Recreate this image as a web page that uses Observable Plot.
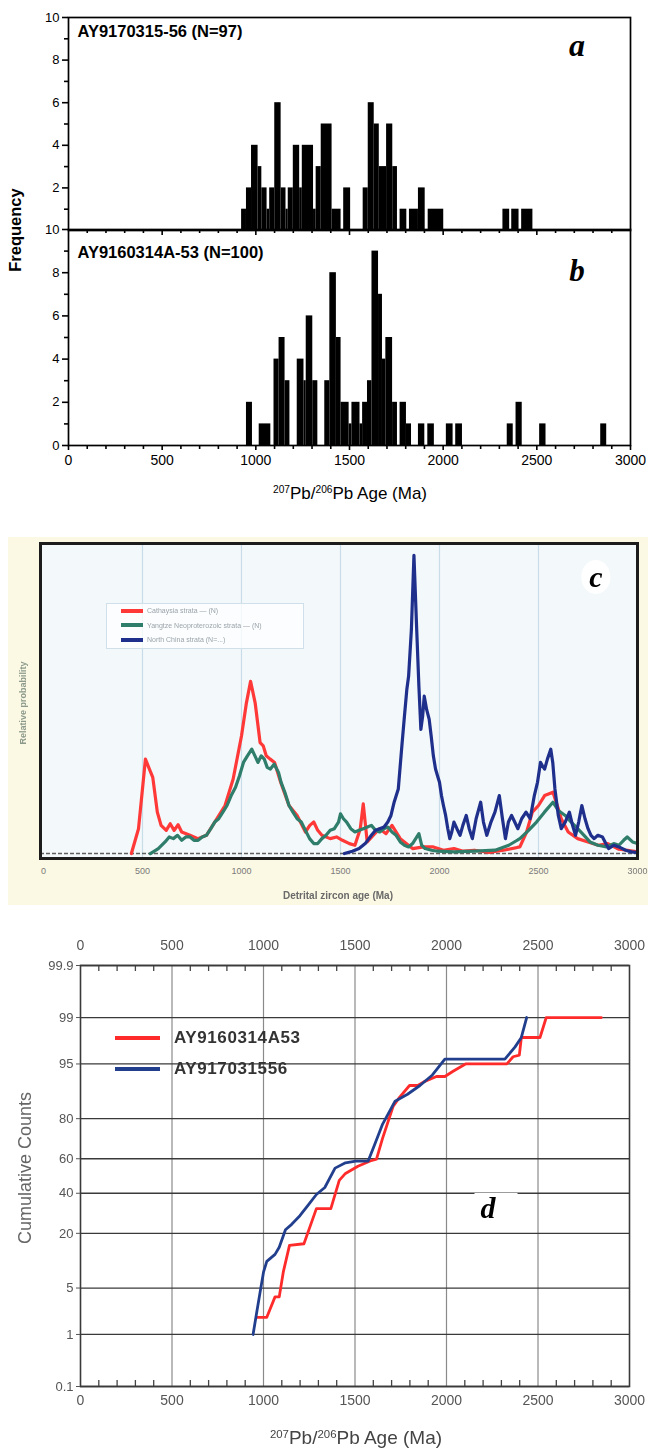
<!DOCTYPE html>
<html><head><meta charset="utf-8">
<script src="https://cdn.jsdelivr.net/npm/d3@7"></script>
<script src="https://cdn.jsdelivr.net/npm/@observablehq/plot@0.6"></script>
<style>
html,body{margin:0;padding:0;background:#fff;}
#root{position:relative;width:648px;height:1451px;overflow:hidden;font-family:"Liberation Sans",Arial,Helvetica,sans-serif;background:#fff;}
#root svg{position:absolute;overflow:visible;}
.lab{position:absolute;white-space:nowrap;line-height:1;}
.ctr{transform:translate(-50%,-50%);}
.rot{transform:translate(-50%,-50%) rotate(-90deg);}
.letter{font-family:"Liberation Serif","Times New Roman",serif;font-weight:bold;font-style:italic;}
sup{font-size:60%;vertical-align:0;position:relative;top:-0.55em;}
</style></head><body>
<div id="root"></div>
<script>
// ---------- shared ticks ----------
const ageTicks = [0, 500, 1000, 1500, 2000, 2500, 3000];
const ageMinorTicks = [100,200,300,400,600,700,800,900,1100,1200,1300,1400,1600,1700,1800,1900,2100,2200,2300,2400,2600,2700,2800,2900];
const freqLabelsA = [2, 4, 6, 8, 10];
const freqLabelsB = [0, 2, 4, 6, 8, 10];
const freqMinor = [1, 3, 5, 7, 9];

// ---------- panel a : AY9170315-56 (N=97) ----------
const aStart = [924,950,977,1012,1032,1060,1074,1101,1135,1161,1173,1200,1234,1248,1308,1322,1349,1407,1469,1573,1600,1632,1659,1698,1731,1770,1820,1868,1920,2319,2366,2419];
const aEnd   = [950,977,1012,1032,1060,1074,1101,1135,1161,1173,1200,1234,1248,1308,1322,1349,1407,1455,1506,1600,1632,1659,1698,1731,1756,1806,1868,1904,2003,2355,2405,2479];
const aCount = [1,2,4,3,2,1,2,6,2,1,2,4,2,4,1,3,5,1,2,2,6,5,3,5,3,1,1,2,1,1,1,1];

// ---------- panel b : AY9160314A-53 (N=100) ----------
const bStart = [950,1018,1097,1124,1156,1221,1257,1269,1304,1368,1395,1430,1455,1498,1513,1556,1570,1596,1620,1655,1676,1694,1730,1770,1804,1868,1918,2017,2067,2342,2389,2515,2841];
const bEnd   = [982,1080,1124,1156,1182,1257,1269,1304,1331,1395,1430,1455,1498,1513,1556,1570,1596,1620,1655,1676,1694,1730,1756,1804,1831,1902,1953,2053,2103,2374,2422,2549,2873];
const bCount = [2,1,4,5,3,4,3,6,3,3,8,5,2,1,2,1,2,3,9,7,4,5,2,2,1,1,1,1,1,1,2,1,1];

// ---------- panel c : relative probability curves ----------
const cTicks = [0, 500, 1000, 1500, 2000, 2500, 3000];
const cGrid = [500, 1000, 1500, 2000, 2500];
const redAge = [444,480,515,535,552,575,594,620,640,660,680,698,740,780,823,865,917,958,1000,1025,1046,1069,1094,1110,1125,1145,1167,1198,1240,1281,1323,1345,1365,1385,1406,1448,1480,1510,1545,1573,1600,1615,1635,1665,1698,1730,1760,1802,1864,1920,1969,2020,2073,2120,2177,2250,2323,2406,2440,2469,2500,2531,2573,2600,2615,2650,2698,2750,2802,2850,2906,2950,3000];
const redProb = [0,75,285,255,230,125,85,70,90,70,87,65,55,45,55,95,145,225,355,455,520,455,335,325,295,285,275,215,145,115,65,85,95,70,55,45,50,40,30,25,75,150,35,55,75,60,85,45,15,20,20,10,15,7,10,3,10,20,65,125,145,175,185,135,105,65,45,35,25,30,13,10,5];
const greenAge = [540,580,614,635,656,677,698,719,740,760,781,802,823,845,865,885,906,927,948,970,990,1010,1030,1052,1068,1083,1100,1115,1130,1146,1165,1187,1200,1219,1240,1260,1281,1302,1323,1344,1365,1385,1406,1427,1448,1469,1490,1500,1515,1531,1552,1573,1594,1615,1636,1656,1677,1698,1719,1739,1760,1781,1802,1823,1844,1864,1880,1896,1910,1927,1960,1990,2073,2180,2281,2350,2406,2450,2490,2530,2573,2600,2635,2665,2698,2730,2760,2800,2844,2880,2906,2930,2948,2975,3000];
const greenProb = [0,15,35,50,45,55,40,50,50,40,40,50,55,75,95,105,125,145,175,200,235,275,295,315,295,275,295,285,260,255,270,245,215,185,145,125,105,95,70,45,30,30,45,55,70,75,95,120,105,95,75,65,70,75,80,85,70,65,75,80,65,55,35,25,20,30,45,60,25,15,10,7,5,7,10,25,45,70,95,125,155,130,115,95,75,55,35,25,20,30,25,40,50,35,30];
const blueAge = [1520,1560,1594,1625,1656,1677,1698,1720,1739,1755,1771,1792,1810,1823,1835,1844,1858,1871,1885,1896,1906,1915,1923,1935,1948,1958,1969,1980,1990,2000,2010,2020,2031,2042,2052,2062,2073,2088,2104,2118,2135,2150,2166,2185,2208,2222,2239,2260,2280,2302,2318,2333,2348,2364,2380,2396,2415,2437,2458,2479,2495,2510,2520,2531,2545,2562,2572,2583,2600,2615,2635,2656,2672,2687,2703,2719,2735,2750,2765,2781,2800,2823,2840,2854,2880,2906,2940,2969,3000];
const blueProb = [0,7,15,30,55,70,75,80,95,115,155,195,325,415,495,535,675,900,675,505,375,415,475,435,405,355,295,255,235,215,175,145,115,75,45,65,95,75,55,85,115,75,45,105,155,95,55,95,125,175,105,45,95,115,95,75,105,125,105,175,215,275,265,255,285,315,275,195,115,75,95,125,85,55,95,145,105,75,55,45,55,50,30,15,25,20,10,5,3];
const cLegend = ["Cathaysia strata — (N)", "Yangtze Neoproterozoic strata — (N)", "North China strata (N=...)"];

// ---------- panel d : cumulative probability ----------
const cumTicks = [0.1, 1, 5, 20, 40, 60, 80, 95, 99, 99.9];
const dGrid = [500, 1000, 1500, 2000, 2500];
const redCumAge = [961,1018,1063,1086,1108,1142,1221,1289,1368,1414,1448,1516,1583,1617,1651,1708,1742,1798,1843,1878,1945,1991,2036,2104,2330,2364,2398,2409,2511,2545,2846];
const redCumPct = [1.9,1.9,3.8,3.8,7.9,15.4,16,31.6,31.6,47.4,51.5,55.7,58.7,59.7,71.1,84.6,87.5,90.8,90.8,91.7,92.8,92.8,93.8,95,95,96,96.2,97.9,97.9,99,99];
const blueCumAge = [943,961,984,1000,1018,1063,1086,1120,1154,1199,1244,1289,1335,1391,1448,1504,1572,1606,1651,1719,1787,1855,1923,1991,2319,2375,2409,2438];
const blueCumPct = [1,2.1,4.8,7.9,10.5,12.5,14.8,21.5,23.9,28,33.5,39.3,43.3,54.6,57.7,58.7,58.7,67.4,77.7,86.4,88.5,90.8,93.1,95.7,95.7,97.1,97.9,99];
const dNames = ["AY9160314A53", "AY917031556"];

// ---------- helpers ----------
function probit(p) {
  const a=[-3.969683028665376e+01,2.209460984245205e+02,-2.759285104469687e+02,1.383577518672690e+02,-3.066479806614716e+01,2.506628277459239e+00];
  const b=[-5.447609879822406e+01,1.615858368580409e+02,-1.556989798598866e+02,6.680131188771972e+01,-1.328068155288572e+01];
  const c=[-7.784894002430293e-03,-3.223964580411365e-01,-2.400758277161838e+00,-2.549732539343734e+00,4.374664141464968e+00,2.938163982698783e+00];
  const d=[7.784695709041462e-03,3.224671290700398e-01,2.445134137142996e+00,3.754408661907416e+00];
  const pl=0.02425, ph=1-pl; let q, r;
  if (p < pl) { q=Math.sqrt(-2*Math.log(p)); return (((((c[0]*q+c[1])*q+c[2])*q+c[3])*q+c[4])*q+c[5])/((((d[0]*q+d[1])*q+d[2])*q+d[3])*q+1); }
  if (p <= ph) { q=p-0.5; r=q*q; return (((((a[0]*r+a[1])*r+a[2])*r+a[3])*r+a[4])*r+a[5])*q/(((((b[0]*r+b[1])*r+b[2])*r+b[3])*r+b[4])*r+1); }
  q=Math.sqrt(-2*Math.log(1-p)); return -(((((c[0]*q+c[1])*q+c[2])*q+c[3])*q+c[4])*q+c[5])/((((d[0]*q+d[1])*q+d[2])*q+d[3])*q+1);
}
const probitPct = v => probit(v / 100);
const root = document.getElementById("root");
function place(el, left, top) { el.style.left = left + "px"; el.style.top = top + "px"; root.appendChild(el); return el; }
function label(html, x, y, cls, style) {
  const d = document.createElement("div");
  d.className = "lab " + (cls || "ctr");
  d.innerHTML = html;
  Object.assign(d.style, style || {});
  return place(d, x, y);
}
const plain = d => String(d);
const toBins = (s, e, n) => s.map((v, i) => ({x1: v, x2: e[i], n: n[i]}));
const toPts = (xs, ys) => xs.map((v, i) => ({age: v, v: ys[i]}));

function histPlot(bins, o) {
  const innerH = o.height - o.mt - o.mb;
  const marks = [
    Plot.rectY(bins, {x1: "x1", x2: "x2", y: "n", fill: "#000"}),
    Plot.frame({stroke: "#000", strokeWidth: 1.7}),
    Plot.axisY({ticks: o.labels, tickSize: 6, tickPadding: 3, fontSize: 13, label: null, strokeWidth: 1.6, tickFormat: plain}),
    Plot.axisY({ticks: freqMinor, tickSize: 4, text: null, label: null, strokeWidth: 1.6}),
    Plot.text([o.title], {text: d => d, frameAnchor: "top-left", dx: 9, dy: o.titleDy, fontSize: 16.5, fontWeight: "bold", fill: "#000"})
  ];
  if (o.topTicks) {
    marks.push(Plot.ruleX(ageMinorTicks, {insetBottom: innerH - 4, strokeWidth: 1.6}));
    marks.push(Plot.ruleX(ageTicks.slice(1, -1), {insetBottom: innerH - 6, strokeWidth: 1.6}));
  }
  if (o.bottomAxis) {
    marks.push(Plot.axisX({ticks: ageTicks, tickSize: 5, tickPadding: 5, fontSize: 14, label: null, strokeWidth: 1.6, tickFormat: plain}));
    marks.push(Plot.axisX({ticks: ageMinorTicks, tickSize: 4, text: null, label: null, strokeWidth: 1.6}));
  }
  return Plot.plot({
    width: 648, height: o.height, marginTop: o.mt, marginBottom: o.mb, marginLeft: 68, marginRight: 18,
    style: {background: "transparent", fontFamily: "Liberation Sans, Arial, sans-serif", color: "#000"},
    x: {domain: [0, 3000], axis: o.bottomAxis ? undefined : null},
    y: {domain: [0, 10]},
    marks
  });
}

// ---------- panel a ----------
place(histPlot(toBins(aStart, aEnd, aCount), {height: 231, mt: 17, mb: 1, labels: freqLabelsA, title: "AY9170315-56 (N=97)", titleDy: 8, topTicks: false, bottomAxis: false}), 0, 0);
// ---------- panel b ----------
place(histPlot(toBins(bStart, bEnd, bCount), {height: 293, mt: 17, mb: 60, labels: freqLabelsB, title: "AY9160314A-53 (N=100)", titleDy: 17, topTicks: true, bottomAxis: true}), 0, 212);

label("Frequency", 15, 230, "rot", {fontSize: "16.5px", fontWeight: "bold"});
label("<sup>207</sup>Pb/<sup>206</sup>Pb Age (Ma)", 350, 493, "ctr", {fontSize: "17px"});
label("a", 577, 45, "ctr letter", {fontSize: "32px"});
label("b", 577, 270, "ctr letter", {fontSize: "31px"});

// ---------- panel c ----------
const plotC = Plot.plot({
  width: 640, height: 368, marginTop: 6, marginBottom: 47, marginLeft: 32, marginRight: 11,
  style: {background: "#fbf8e3", fontFamily: "Liberation Sans, Arial, sans-serif"},
  x: {domain: [-15, 3000]},
  y: {domain: [-15, 936], axis: null},
  marks: [
    Plot.frame({fill: "#f3f8fa"}),
    Plot.ruleX(cGrid, {stroke: "#c9dde9", strokeWidth: 1.2}),
    Plot.ruleY([0], {stroke: "#606060", strokeWidth: 1.6, strokeDasharray: "4,2"}),
    Plot.line(toPts(redAge, redProb), {x: "age", y: "v", stroke: "#ff3838", strokeWidth: 3.2, strokeLinejoin: "round"}),
    Plot.line(toPts(greenAge, greenProb), {x: "age", y: "v", stroke: "#2f7d6b", strokeWidth: 3.2, strokeLinejoin: "round"}),
    Plot.line(toPts(blueAge, blueProb), {x: "age", y: "v", stroke: "#1f2f8c", strokeWidth: 3.2, strokeLinejoin: "round"}),
    Plot.frame({stroke: "#1c1c1c", strokeWidth: 3}),
    Plot.axisX({ticks: cTicks, tickSize: 0, tickPadding: 9, fontSize: 9, color: "#7a7a7a", label: null, tickFormat: plain})
  ]
});
plotC.style.filter = "blur(0.5px)";
place(plotC, 8, 537);
label("Detrital zircon age (Ma)", 338, 896, "ctr", {fontSize: "10px", color: "#6a6a6a", fontWeight: "bold"});
label("Relative probability", 23, 703, "rot", {fontSize: "9px", color: "#8c9a8c", fontWeight: "bold"});
label("c", 596, 577, "ctr letter", {fontSize: "30px", background: "#fff", borderRadius: "50%", padding: "2px 8px"});
// legend c
(function () {
  const box = document.createElement("div");
  Object.assign(box.style, {position: "absolute", width: "196px", height: "44px", background: "rgba(255,255,255,0.75)", border: "1px solid #cfe0ea", filter: "blur(0.4px)"});
  const cols = ["#ff3838", "#2f7d6b", "#1f2f8c"];
  cLegend.forEach((t, i) => {
    const row = document.createElement("div");
    Object.assign(row.style, {position: "absolute", left: "14px", top: (3 + i * 14.5) + "px", display: "flex", alignItems: "center", gap: "4px", whiteSpace: "nowrap"});
    row.innerHTML = `<span style="display:inline-block;width:22px;height:4px;background:${cols[i]}"></span><span style="font-size:7px;color:#9aa3aa">${t}</span>`;
    box.appendChild(row);
  });
  place(box, 106, 603);
})();

// ---------- panel d ----------
const dInnerH = 546 - 60 - 65;
const cumTickPos = cumTicks.map(probitPct);
const cumTickText = d => String(cumTicks[d3.minIndex(cumTickPos, p => Math.abs(p - d))]);
const plotD = Plot.plot({
  width: 648, height: 546, marginTop: 60, marginBottom: 65, marginLeft: 80, marginRight: 19,
  style: {background: "transparent", fontFamily: "Liberation Sans, Arial, sans-serif"},
  x: {domain: [0, 3000]},
  y: {type: "linear", transform: probitPct},
  marks: [
    Plot.ruleX(dGrid, {stroke: "#8a8a8a", strokeWidth: 1.2}),
    Plot.ruleY(cumTicks, {y: d => d, stroke: "#3a3a3a", strokeWidth: 1.3}),
    Plot.ruleX(ageMinorTicks, {insetBottom: dInnerH - 6, stroke: "#444", strokeWidth: 1.3}),
    Plot.ruleX(ageMinorTicks, {insetTop: dInnerH - 6, stroke: "#444", strokeWidth: 1.3}),
    Plot.line(toPts(redCumAge, redCumPct), {x: "age", y: "v", stroke: "#ff2b2b", strokeWidth: 2.8}),
    Plot.line(toPts(blueCumAge, blueCumPct), {x: "age", y: "v", stroke: "#223f8e", strokeWidth: 2.8}),
    Plot.frame({stroke: "#3a3a3a", strokeWidth: 1.6}),
    Plot.axisY({ticks: cumTickPos, tickSize: 4, tickPadding: 3, fontSize: 13, color: "#555", label: null, tickFormat: cumTickText}),
    Plot.axisX({anchor: "top", ticks: ageTicks, tickSize: 0, tickPadding: 16, fontSize: 14, color: "#555", label: null, tickFormat: plain}),
    Plot.axisX({anchor: "bottom", ticks: ageTicks, tickSize: 0, tickPadding: 9, fontSize: 14, color: "#555", label: null, tickFormat: plain})
  ]
});
plotD.style.filter = "blur(0.4px)";
place(plotD, 0, 905);
label("Cumulative Counts", 25, 1168, "rot", {fontSize: "18px", color: "#666"});
label("<sup>207</sup>Pb/<sup>206</sup>Pb Age (Ma)", 356, 1437, "ctr", {fontSize: "19px", color: "#444"});
label("d", 496, 1208, "ctr letter", {fontSize: "30px", background: "#fff", padding: "0 22px 0 6px"});
// legend d
(function () {
  const cols = ["#ff2b2b", "#223f8e"];
  const ys = [1038, 1069];
  dNames.forEach((t, i) => {
    const row = document.createElement("div");
    Object.assign(row.style, {position: "absolute", display: "flex", alignItems: "center", gap: "14px", whiteSpace: "nowrap", transform: "translateY(-50%)", filter: "blur(0.3px)"});
    row.innerHTML = `<span style="display:inline-block;width:45px;height:4px;background:${cols[i]}"></span><span style="font-size:17px;font-weight:bold;color:#333;letter-spacing:0.6px">${t}</span>`;
    place(row, 115, ys[i]);
  });
})();
</script></body></html>
